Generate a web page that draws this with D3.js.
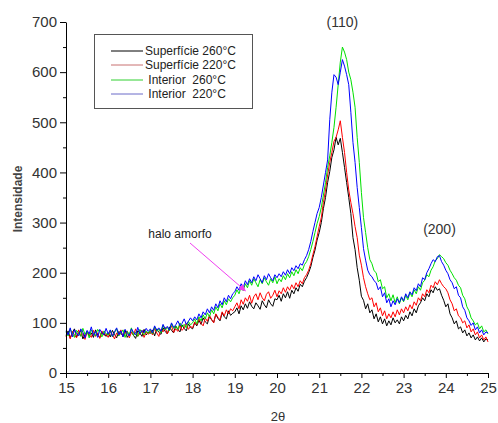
<!DOCTYPE html>
<html>
<head>
<meta charset="utf-8">
<script src="https://cdn.jsdelivr.net/npm/d3@7"></script>
<style>
  body { margin: 0; background: #fff; }
  svg text { font-family: "Liberation Sans", Arial, sans-serif; fill: #333; }
  .axis path, .axis line { stroke: #000; }
</style>
</head>
<body>
<div id="chart"></div>
<script>
// Our canvas
const width = 498,
  height = 423,
  plotLeft = 66,
  plotRight = 488,
  plotTop = 22,
  plotBottom = 373

// sampling grid of the scans (2 theta)
const xStart = 15, xStep = 0.05

// intensities, one row per degree
const sup260 = [
  75,84,70,80,88,72,79,85,68,77,83,74,80,71,86,76,70,82,78,73,
  80,72,85,77,70,83,79,74,86,71,78,82,75,69,84,80,73,87,76,81,
  79,86,74,88,81,77,90,83,78,92,85,80,94,87,82,96,89,84,98,91,
  88,100,94,105,97,110,102,98,113,106,101,117,109,104,120,112,108,124,115,119,
  122,130,118,134,126,138,129,142,133,128,140,134,127,144,136,130,146,138,133,148,
  146,155,143,158,150,162,149,165,158,170,163,177,172,183,190,200,212,230,245,265,
  280,300,328,350,380,402,430,445,470,455,468,440,410,380,350,318,270,246,210,185,
  153,145,128,138,120,126,108,118,102,112,98,108,94,104,96,110,100,106,98,112,
  104,115,108,122,114,128,120,134,140,150,144,158,152,166,160,172,165,168,155,145,
  132,138,118,110,98,104,88,92,80,86,74,80,70,76,66,72,64,70,62,68,66
]
const sup220 = [
  72,80,68,83,76,70,86,74,79,67,82,77,71,85,73,80,69,84,75,78,
  71,83,77,68,80,74,86,72,79,84,70,81,76,88,73,78,85,71,82,77,
  84,76,89,80,73,87,82,91,78,86,94,81,88,83,96,85,90,99,87,93,
  90,102,96,108,99,94,110,103,115,107,100,118,111,106,122,114,126,118,128,124,
  132,140,128,146,137,150,143,155,139,152,158,146,160,150,144,157,162,149,155,165,
  152,164,158,170,161,172,165,176,168,180,172,184,178,190,196,205,218,236,252,272,
  292,310,340,365,395,420,440,462,470,485,503,470,440,400,365,340,318,292,270,235,
  215,190,172,158,146,150,132,140,122,130,114,124,108,118,110,122,112,126,116,128,
  120,132,124,136,128,142,135,150,144,158,152,166,160,175,170,182,176,186,178,172,
  168,160,146,138,124,128,114,110,100,104,90,96,82,88,76,82,70,76,66,72,62
]
const int260 = [
  82,74,88,78,71,85,80,73,89,77,83,70,86,79,74,87,81,72,84,78,
  76,85,72,81,88,74,79,86,71,83,77,90,75,82,73,87,80,76,84,79,
  86,78,92,83,88,80,95,86,91,84,98,89,94,87,100,92,97,90,103,96,
  100,108,98,112,104,116,108,120,112,126,118,132,124,138,130,144,136,148,142,150,
  155,166,158,172,164,178,170,184,175,188,180,172,186,178,190,182,175,188,180,192,
  178,188,182,194,186,198,190,202,194,206,198,210,204,216,222,232,246,262,280,298,
  312,330,355,380,410,433,460,490,530,575,620,650,640,625,600,585,560,530,470,420,
  360,310,280,250,226,218,204,200,182,186,168,172,150,158,144,156,140,152,138,150,
  142,155,146,160,152,166,158,172,165,180,185,196,192,205,212,224,228,236,232,228,
  220,215,205,198,190,185,175,170,155,148,132,124,110,104,96,100,88,94,82,86,78
]
const int220 = [
  84,76,90,72,86,79,74,88,81,70,85,78,92,75,83,71,87,80,76,89,
  78,86,73,82,90,76,84,72,87,79,74,88,81,76,91,78,85,80,89,83,
  88,80,94,85,90,83,97,88,93,86,100,91,96,104,94,99,108,97,103,110,
  104,112,106,118,110,122,116,128,120,132,125,138,130,144,136,150,142,155,148,158,
  162,172,165,178,170,184,176,188,180,192,184,196,188,180,194,186,198,190,184,196,
  190,198,192,202,195,206,198,210,204,214,208,218,215,226,234,246,262,282,300,318,
  330,350,375,400,425,505,560,595,590,575,600,625,612,595,575,520,460,420,370,330,
  290,248,225,205,196,192,184,180,166,172,152,160,140,148,132,144,136,148,140,152,
  144,158,150,162,156,170,164,178,172,190,186,200,208,218,226,222,232,234,222,215,
  205,198,186,180,168,172,155,150,132,125,110,104,95,100,86,92,80,86,76,82,80
]

const seriesNames = ['Superfície 260°C', 'Superfície 220°C', ' Interior  260°C', ' Interior  220°C']
const seriesValues = [sup260, sup220, int260, int220]
const lineColors = ['#000000', '#ff0000', '#00e000', '#0000ff']
const legendColors = ['#000000', '#c87070', '#30d030', '#6a6ac8']

const xTicks = [15, 16, 17, 18, 19, 20, 21, 22, 23, 24, 25]
const yTicks = [0, 100, 200, 300, 400, 500, 600, 700]

const peaks = [
  { label: '(110)', x: 21.55, y: 690 },
  { label: '(200)', x: 23.85, y: 278 }
]

// Drawing area
let svg = d3.select('#chart')
  .append('svg')
  .attr('width', width)
  .attr('height', height)

const x = d3.scaleLinear().domain([15, 25]).range([plotLeft, plotRight])
const y = d3.scaleLinear().domain([0, 700]).range([plotBottom, plotTop])

// curves
const line = d3.line()
  .x((d, i) => x(xStart + i * xStep))
  .y(d => y(d))

svg.selectAll('path.scan')
  .data(seriesValues)
  .enter()
  .append('path')
  .attr('class', 'scan')
  .attr('d', d => line(d))
  .attr('fill', 'none')
  .attr('stroke', (d, i) => lineColors[i])
  .attr('stroke-width', 1)

// axes, minor ticks first
svg.append('g')
  .attr('class', 'axis')
  .attr('transform', `translate(${plotLeft},0)`)
  .call(d3.axisLeft(y).tickValues(d3.range(50, 700, 100)).tickSize(3).tickFormat(''))
  .call(g => g.select('.domain').remove())

svg.append('g')
  .attr('class', 'axis')
  .attr('transform', `translate(0,${plotBottom})`)
  .call(d3.axisBottom(x).tickValues(d3.range(15.5, 25, 1)).tickSize(3).tickFormat(''))
  .call(g => g.select('.domain').remove())

svg.append('g')
  .attr('class', 'axis')
  .attr('transform', `translate(${plotLeft},0)`)
  .call(d3.axisLeft(y).tickValues(yTicks).tickSize(6).tickSizeOuter(0).tickPadding(3))
  .call(g => g.selectAll('text').style('font-size', '15px'))

svg.append('g')
  .attr('class', 'axis')
  .attr('transform', `translate(0,${plotBottom})`)
  .call(d3.axisBottom(x).tickValues(xTicks).tickSize(5).tickSizeOuter(0).tickPadding(4))
  .call(g => g.selectAll('text').style('font-size', '15px'))

// axis titles
svg.append('text')
  .attr('transform', 'translate(22,199) rotate(-90)')
  .attr('text-anchor', 'middle')
  .style('font-size', '12px')
  .style('font-weight', 'bold')
  .style('fill', '#444')
  .text('Intensidade')

svg.append('text')
  .attr('x', 278)
  .attr('y', 421)
  .attr('text-anchor', 'middle')
  .style('font-size', '13px')
  .text('2θ')

// peak labels
svg.selectAll('text.peak')
  .data(peaks)
  .enter()
  .append('text')
  .attr('class', 'peak')
  .attr('x', d => x(d.x))
  .attr('y', d => y(d.y))
  .attr('text-anchor', 'middle')
  .style('font-size', '14px')
  .text(d => d.label)

// halo amorfo annotation
svg.append('defs').append('marker')
  .attr('id', 'head')
  .attr('viewBox', '0 0 10 10')
  .attr('refX', 9)
  .attr('refY', 5)
  .attr('markerWidth', 7)
  .attr('markerHeight', 7)
  .attr('orient', 'auto')
  .append('path')
  .attr('d', 'M0,0L10,5L0,10z')
  .attr('fill', '#f040f0')

svg.append('line')
  .attr('x1', 190)
  .attr('y1', 243)
  .attr('x2', x(19.25))
  .attr('y2', y(164))
  .attr('stroke', '#f040f0')
  .attr('stroke-width', 1)
  .attr('marker-end', 'url(#head)')

svg.append('text')
  .attr('x', 180)
  .attr('y', 238)
  .attr('text-anchor', 'middle')
  .style('font-size', '12px')
  .style('fill', '#222')
  .text('halo amorfo')

// legend
const legend = svg.append('g')
svg.append('rect')
  .attr('x', 94.5)
  .attr('y', 34.5)
  .attr('width', 158)
  .attr('height', 74)
  .attr('fill', 'none')
  .attr('stroke', '#555')

const rowY = [55, 69, 84, 98]
seriesNames.forEach((name, i) => {
  legend.append('line')
    .attr('x1', 111)
    .attr('x2', 143)
    .attr('y1', rowY[i] - 4)
    .attr('y2', rowY[i] - 4)
    .attr('stroke', legendColors[i])
  legend.append('text')
    .attr('x', 145)
    .attr('y', rowY[i])
    .style('font-size', '12px')
    .style('fill', '#222')
    .style('white-space', 'pre')
    .attr('xml:space', 'preserve')
    .text(name)
})
</script>
</body>
</html>
